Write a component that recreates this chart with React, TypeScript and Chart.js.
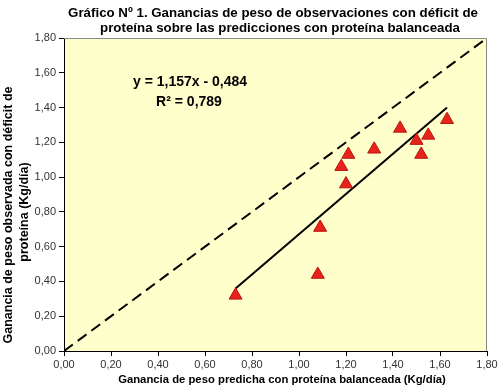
import React, { useEffect, useRef } from "react";
import { Chart, registerables } from "chart.js";

Chart.register(...registerables);

const titleLines = [
  "Gráfico Nº 1. Ganancias de peso de observaciones con déficit de",
  "proteína sobre las predicciones con proteína balanceada",
];
const xAxisTitle = "Ganancia de peso predicha con proteína balanceada (Kg/día)";
const yAxisTitle = ["Ganancia de peso observada con déficit de", "proteína (Kg/día)"];
const equationText = "y = 1,157x - 0,484";
const r2Text = "R² = 0,789";

// observed points
const predicted = [0.73, 1.08, 1.09, 1.2, 1.18, 1.21, 1.32, 1.43, 1.5, 1.55, 1.52, 1.63];
const observed = [0.32, 0.44, 0.71, 0.96, 1.06, 1.13, 1.16, 1.28, 1.21, 1.24, 1.13, 1.33];

// trend line endpoints
const trendX = [0.73, 1.63];
const trendY = [0.36, 1.4];

// 1:1 reference line
const refX = [0, 1.8];
const refY = [0, 1.8];

const tickValues = [0, 0.2, 0.4, 0.6, 0.8, 1, 1.2, 1.4, 1.6, 1.8];

const FONT = "'Liberation Sans', Arial, sans-serif";
const fmt = (v: number) => v.toFixed(2).replace(".", ",");

const decorPlugin = {
  id: "decor",
  beforeDatasetsDraw(chart: any) {
    const { ctx, chartArea: a } = chart;
    ctx.save();
    ctx.strokeStyle = "#8a8a8a";
    ctx.lineWidth = 1;
    ctx.beginPath();
    ctx.moveTo(a.left, a.top + 0.5);
    ctx.lineTo(a.right - 0.5, a.top + 0.5);
    ctx.lineTo(a.right - 0.5, a.bottom);
    ctx.stroke();
    ctx.restore();
  },
  afterDraw(chart: any) {
    const { ctx } = chart;
    ctx.save();
    ctx.fillStyle = "#000";
    ctx.textAlign = "center";
    ctx.textBaseline = "middle";
    ctx.font = `bold 13.3px ${FONT}`;
    ctx.fillText(titleLines[0], 273, 13);
    ctx.fillText(titleLines[1], 280, 28);

    ctx.font = `bold 11.3px ${FONT}`;
    ctx.fillText(xAxisTitle, 282, 380);

    ctx.font = `bold 12.5px ${FONT}`;
    ctx.save();
    ctx.translate(9, 215);
    ctx.rotate(-Math.PI / 2);
    ctx.fillText(yAxisTitle[0], 0, 0);
    ctx.fillText(yAxisTitle[1], 3, 16);
    ctx.restore();

    ctx.font = `bold 14px ${FONT}`;
    ctx.fillText(equationText, 190, 82);
    ctx.fillText(r2Text, 189, 102);
    ctx.restore();
  },
};

export default function App() {
  const ref = useRef<HTMLCanvasElement>(null);
  useEffect(() => {
    if (!ref.current) return;
    const chart = new Chart(ref.current, {
      type: "scatter",
      data: {
        datasets: [
          {
            label: "1:1",
            data: refX.map((x, i) => ({ x, y: refY[i] })),
            showLine: true,
            borderColor: "#000",
            borderWidth: 2,
            borderDash: [11, 6],
            pointRadius: 0,
            order: 3,
          },
          {
            label: "tendencia",
            data: trendX.map((x, i) => ({ x, y: trendY[i] })),
            showLine: true,
            borderColor: "#000",
            borderWidth: 2,
            pointRadius: 0,
            order: 2,
          },
          {
            label: "observado",
            data: predicted.map((x, i) => ({ x, y: observed[i] })),
            pointStyle: "triangle",
            pointRadius: 7.5,
            backgroundColor: "#e8231c",
            borderColor: "#b81410",
            borderWidth: 1,
            order: 1,
          },
        ],
      },
      options: {
        responsive: false,
        animation: false,
        layout: { padding: { top: 38, right: 14, left: 0, bottom: 0 } },
        plugins: {
          legend: { display: false },
          tooltip: { enabled: false },
          title: { display: false },
        },
        scales: {
          x: {
            type: "linear",
            min: 0,
            max: 1.8,
            afterFit: (s: any) => {
              s.height = 40;
            },
            afterBuildTicks: (s: any) => {
              s.ticks = tickValues.map((v) => ({ value: v }));
            },
            grid: { drawOnChartArea: false, tickLength: 5, color: "#000" },
            border: { color: "#000", width: 1 },
            ticks: {
              color: "#333",
              font: { family: FONT, size: 11 },
              padding: 2,
              maxRotation: 0,
              callback: (v: any) => fmt(Number(v)),
            },
          },
          y: {
            type: "linear",
            min: 0,
            max: 1.8,
            afterFit: (s: any) => {
              s.width = 64;
            },
            afterBuildTicks: (s: any) => {
              s.ticks = tickValues.map((v) => ({ value: v }));
            },
            grid: { drawOnChartArea: false, tickLength: 5, color: "#000" },
            border: { color: "#000", width: 1 },
            ticks: {
              color: "#333",
              font: { family: FONT, size: 11 },
              padding: 3,
              callback: (v: any) => fmt(Number(v)),
            },
          },
        },
      },
      plugins: [
        {
          id: "bg",
          beforeDraw(chart: any) {
            const { ctx, chartArea: a } = chart;
            ctx.save();
            ctx.fillStyle = "#fff";
            ctx.fillRect(0, 0, chart.width, chart.height);
            ctx.fillStyle = "#ffffcc";
            ctx.fillRect(a.left, a.top, a.right - a.left, a.bottom - a.top);
            ctx.restore();
          },
        },
        decorPlugin,
      ],
    } as any);
    return () => chart.destroy();
  }, []);
  return (
    <div style={{ position: "fixed", left: 0, top: 0, width: 501, height: 391, background: "#fff" }}>
      <canvas ref={ref} width={501} height={391} style={{ width: 501, height: 391 }} />
    </div>
  );
}
